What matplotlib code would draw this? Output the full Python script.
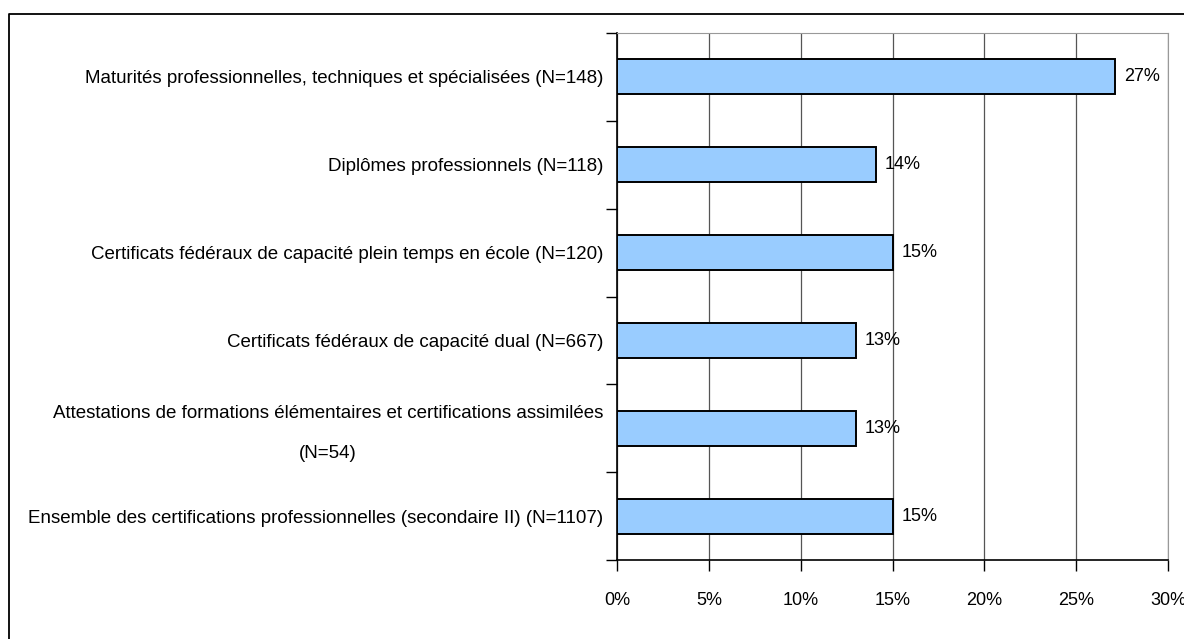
import numpy as np
import matplotlib.pyplot as plt
from matplotlib.lines import Line2D
from matplotlib.transforms import ScaledTranslation
from matplotlib.ticker import FixedLocator, FuncFormatter

# categories, top to bottom as in the chart
categories = [
    "Maturités professionnelles, techniques et spécialisées (N=148)",
    "Diplômes professionnels (N=118)",
    "Certificats fédéraux de capacité plein temps en école (N=120)",
    "Certificats fédéraux de capacité dual (N=667)",
    "Attestations de formations élémentaires et certifications assimilées\n(N=54)",
    "Ensemble des certifications professionnelles (secondaire II) (N=1107)",
]
values = [27.1, 14.1, 15.0, 13.0, 13.0, 15.0]
value_labels = ["27%", "14%", "15%", "13%", "13%", "15%"]
x_ticks = [0, 5, 10, 15, 20, 25, 30]

plt.rcParams['font.family'] = ['Liberation Sans', 'DejaVu Sans']

fig = plt.figure(figsize=(11.84, 6.39), dpi=100)
ax = fig.add_axes([617 / 1184, 1 - 560 / 639, 551 / 1184, 527 / 639])

# chart frame: only the left and top edges show in the crop
fx, fy = 9 / 1184, 1 - 14 / 639
fig.add_artist(Line2D([fx, fx, 1.0], [0.0, fy, fy], transform=fig.transFigure,
                      color='black', linewidth=1.3))

n = len(categories)
ypos = np.arange(n)[::-1]
ax.barh(ypos, values, height=0.4, color='#99CCFF', edgecolor='black',
        linewidth=1.4, zorder=3)

# value labels just past the bar end
for y, v, lab in zip(ypos, values, value_labels):
    ax.annotate(lab, (v, y), xytext=(9, 0), textcoords='offset pixels',
                ha='left', va='center', fontsize=13, zorder=4)

ax.set_xlim(0, 30)
ax.set_ylim(-0.5, n - 0.5)
ax.xaxis.set_major_locator(FixedLocator(x_ticks))
ax.xaxis.set_major_formatter(FuncFormatter(lambda v, p: f"{v:.0f}%"))
ax.grid(axis='x', color='#555555', linewidth=0.9, zorder=0)

ax.set_yticks(ypos)
ax.set_yticklabels(categories, fontsize=13.5, linespacing=2.8,
                   multialignment='center')
ax.yaxis.set_minor_locator(FixedLocator(np.arange(-0.5, n, 1.0)))
ax.tick_params(axis='y', which='major', length=0, pad=10)
ax.tick_params(axis='y', which='minor', length=8, width=1)
ax.tick_params(axis='x', which='major', length=8, width=1, pad=15, labelsize=13)

# the wrapped label sits a little higher in the original
for lbl in ax.get_yticklabels():
    if "\n" in lbl.get_text():
        lbl.set_transform(lbl.get_transform() + ScaledTranslation(0, 6 / 72, fig.dpi_scale_trans))

for s in ['top', 'right']:
    ax.spines[s].set_color('#999999')
for s in ['left', 'bottom']:
    ax.spines[s].set_linewidth(1.2)

fig.savefig('out.png', dpi=100)
